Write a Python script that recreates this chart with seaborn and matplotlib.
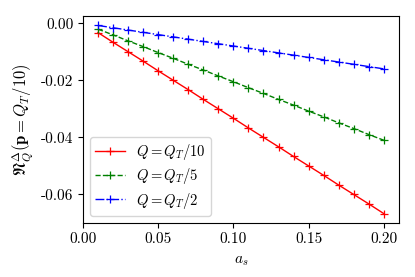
import matplotlib
matplotlib.use("Agg")
import matplotlib.pyplot as plt
import seaborn as sns
import pandas as pd

a_s = [0.01, 0.02, 0.03, 0.04, 0.05, 0.06, 0.07, 0.08, 0.09, 0.10,
       0.11, 0.12, 0.13, 0.14, 0.15, 0.16, 0.17, 0.18, 0.19, 0.20]
q10 = [-0.0033, -0.0067, -0.0100, -0.0133, -0.0167, -0.0200, -0.0233, -0.0267, -0.0300, -0.0333,
       -0.0367, -0.0400, -0.0433, -0.0467, -0.0500, -0.0533, -0.0567, -0.0600, -0.0633, -0.0667]
q5 = [-0.0021, -0.0041, -0.0062, -0.0082, -0.0103, -0.0123, -0.0144, -0.0164, -0.0185, -0.0205,
      -0.0226, -0.0246, -0.0267, -0.0287, -0.0308, -0.0328, -0.0349, -0.0369, -0.0390, -0.0410]
q2 = [-0.0008, -0.0016, -0.0024, -0.0032, -0.0040, -0.0048, -0.0056, -0.0064, -0.0072, -0.0080,
      -0.0088, -0.0096, -0.0104, -0.0112, -0.0120, -0.0128, -0.0136, -0.0144, -0.0152, -0.0160]
labels = [r"$Q = Q_T/10$", r"$Q = Q_T/5$", r"$Q = Q_T/2$"]
colors = ["red", "green", "blue"]
styles = ["-", "--", "-."]

plt.rcParams["font.family"] = ["cmr10", "DejaVu Serif"]
plt.rcParams["mathtext.fontset"] = "cm"
plt.rcParams["axes.unicode_minus"] = False
plt.rcParams["axes.formatter.use_mathtext"] = True
plt.rcParams["font.size"] = 11

fig = plt.figure(figsize=(4.15, 2.77), dpi=100)
ax = fig.add_axes([0.2, 0.195, 0.761, 0.747])

for ys, lab, c, ls in zip([q10, q5, q2], labels, colors, styles):
    df = pd.DataFrame({"a": a_s, "v": ys})
    sns.lineplot(data=df, x="a", y="v", ax=ax, color=c, linestyle=ls,
                 marker="+", markersize=6, markeredgecolor=c, markeredgewidth=0.9,
                 linewidth=1.0, label=lab)

ax.set_xlim(0, 0.21)
ax.set_xticks([0.0, 0.05, 0.10, 0.15, 0.20])
ax.set_xticklabels(["0.00", "0.05", "0.10", "0.15", "0.20"])
ax.set_yticks([0.0, -0.02, -0.04, -0.06])
ax.set_yticklabels(["0.00", "-0.02", "-0.04", "-0.06"])
ax.set_xlabel(r"$a_s$", labelpad=6)
ax.set_ylabel(r"$\mathfrak{N}^{\Delta}_{Q}(\mathbf{p} = Q_T/10)$", fontsize=12)
ax.legend(loc="lower left", fontsize=10.5, labelspacing=0.3, borderpad=0.35)

fig.savefig("out.png", dpi=100)
